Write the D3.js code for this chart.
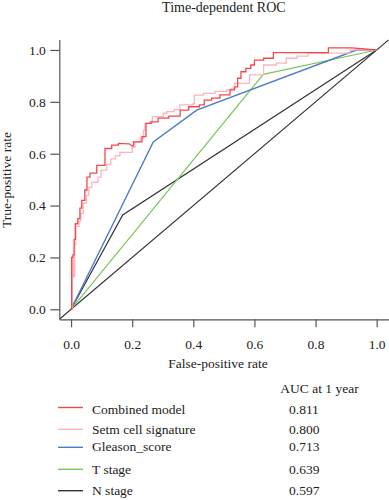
<!DOCTYPE html>
<html><head><meta charset="utf-8">
<script src="https://cdn.jsdelivr.net/npm/d3@7"></script>
<style>body{margin:0;background:#fff}svg{display:block}text{font-family:"Liberation Serif","Times New Roman",serif;fill:#222}</style>
</head><body>
<svg id="c" width="389" height="500"></svg>
<script>
const ticks = [0, 0.2, 0.4, 0.6, 0.8, 1.0];
const seriesNames = ["Combined model", "Setm cell signature", "Gleason_score", "T stage", "N stage"];
const aucValues = ["0.811", "0.800", "0.713", "0.639", "0.597"];
const colors = ["#f4474a", "#ffb3bd", "#4a7cc7", "#7cc65c", "#333333"];

const combinedFPR = [0,0.002,0.002,0.006,0.006,0.010,0.010,0.014,0.014,0.022,0.022,0.029,0.029,0.035,0.035,0.045,0.045,0.052,0.052,0.062,0.062,0.084,0.084,0.111,0.111,0.133,0.133,0.155,0.155,0.190,0.199,0.204,0.204,0.232,0.232,0.245,0.245,0.262,0.262,0.285,0.285,0.320,0.320,0.357,0.357,0.385,0.385,0.420,0.420,0.436,0.436,0.460,0.460,0.487,0.487,0.520,0.520,0.535,0.535,0.545,0.545,0.556,0.556,0.572,0.572,0.588,0.588,0.600,0.600,0.630,0.630,0.662,0.662,0.842,0.842,0.918,1.0];
const combinedTPR = [0,0,0.200,0.200,0.210,0.210,0.270,0.270,0.330,0.330,0.350,0.350,0.390,0.390,0.420,0.420,0.460,0.460,0.510,0.510,0.525,0.525,0.555,0.555,0.620,0.620,0.633,0.633,0.640,0.638,0.630,0.630,0.646,0.646,0.666,0.666,0.717,0.717,0.723,0.723,0.737,0.737,0.745,0.745,0.768,0.768,0.781,0.781,0.788,0.788,0.807,0.807,0.814,0.814,0.827,0.827,0.846,0.846,0.858,0.858,0.891,0.891,0.916,0.916,0.929,0.929,0.942,0.942,0.961,0.961,0.968,0.968,0.990,0.990,1.008,1.008,1.0];

const setmFPR = [0,0.004,0.004,0.008,0.008,0.012,0.012,0.016,0.016,0.026,0.026,0.032,0.032,0.040,0.040,0.050,0.050,0.058,0.058,0.068,0.068,0.088,0.088,0.098,0.098,0.117,0.117,0.130,0.130,0.145,0.145,0.160,0.160,0.200,0.200,0.209,0.209,0.226,0.226,0.237,0.237,0.242,0.242,0.258,0.258,0.266,0.266,0.302,0.302,0.313,0.313,0.338,0.338,0.356,0.356,0.400,0.400,0.404,0.404,0.433,0.433,0.471,0.471,0.509,0.509,0.524,0.524,0.535,0.535,0.584,0.584,0.630,0.630,0.672,0.672,0.704,0.704,0.740,0.740,0.776,0.776,0.913,0.913,1.0];
const setmTPR = [0,0,0.200,0.200,0.125,0.125,0.250,0.250,0.320,0.320,0.340,0.340,0.370,0.370,0.410,0.410,0.440,0.440,0.470,0.470,0.490,0.490,0.510,0.510,0.537,0.537,0.560,0.560,0.580,0.580,0.592,0.592,0.605,0.605,0.625,0.625,0.646,0.646,0.660,0.660,0.690,0.690,0.717,0.717,0.723,0.723,0.743,0.743,0.756,0.756,0.762,0.762,0.770,0.770,0.788,0.788,0.794,0.794,0.826,0.826,0.833,0.833,0.840,0.840,0.846,0.846,0.852,0.852,0.871,0.871,0.904,0.904,0.942,0.942,0.949,0.949,0.968,0.968,0.976,0.976,0.988,0.988,1.0,1.0];

const gleasonFPR = [0, 0.269, 0.411, 0.934, 1.0];
const gleasonTPR = [0, 0.645, 0.768, 1.0, 1.0];
const tstageFPR = [0, 0.629, 0.989, 1.0];
const tstageTPR = [0, 0.906, 0.997, 1.0];
const nstageFPR = [0, 0.169, 1.0];
const nstageTPR = [0, 0.364, 1.0];
const refFPR = [-0.0385, 1.04];
const refTPR = [-0.0385, 1.04];

const svg = d3.select("#c");
const x = d3.scaleLinear().domain([-0.0385, 1.04]).range([59.3, 388.9]);
const y = d3.scaleLinear().domain([-0.0385, 1.04]).range([319.3, 39.6]);

svg.append("defs").append("clipPath").attr("id","clip").append("rect")
  .attr("x", x.range()[0]).attr("y", y.range()[1])
  .attr("width", x.range()[1]-x.range()[0]).attr("height", y.range()[0]-y.range()[1]);

const line = d3.line().x(d => x(d[0])).y(d => y(d[1]));
const g = svg.append("g").attr("clip-path","url(#clip)");
const zip = (a,b) => a.map((v,i) => [v, b[i]]);

g.append("path").datum(zip(refFPR, refTPR)).attr("d", line).attr("fill","none").attr("stroke","#333").attr("stroke-width",1.2);
g.append("path").datum(zip(nstageFPR, nstageTPR)).attr("d", line).attr("fill","none").attr("stroke",colors[4]).attr("stroke-width",1.2);
g.append("path").datum(zip(tstageFPR, tstageTPR)).attr("d", line).attr("fill","none").attr("stroke",colors[3]).attr("stroke-width",1.2);
g.append("path").datum(zip(gleasonFPR, gleasonTPR)).attr("d", line).attr("fill","none").attr("stroke",colors[2]).attr("stroke-width",1.4);
g.append("path").datum(zip(setmFPR, setmTPR)).attr("d", line).attr("fill","none").attr("stroke",colors[1]).attr("stroke-width",1.3);
g.append("path").datum(zip(combinedFPR, combinedTPR)).attr("d", line).attr("fill","none").attr("stroke",colors[0]).attr("stroke-width",1.3);

const xa = svg.append("g").attr("transform",`translate(0,${y.range()[0]})`)
  .call(d3.axisBottom(x).tickValues(ticks).tickFormat(d3.format(".1f")).tickSize(8).tickSizeOuter(0).tickPadding(12));
const ya = svg.append("g").attr("transform",`translate(${x.range()[0]},0)`)
  .call(d3.axisLeft(y).tickValues(ticks).tickFormat(d3.format(".1f")).tickSize(9).tickSizeOuter(0).tickPadding(4.5));
[xa, ya].forEach(a => {
  a.selectAll("path,line").attr("stroke","#555").attr("stroke-width",1.2);
  a.selectAll("text").attr("font-size","13.5px").attr("font-family",'"Liberation Serif",serif').attr("fill","#222");
});

const cx = (x(0)+x(1))/2;
svg.append("text").attr("x", cx).attr("y", 12).attr("text-anchor","middle").attr("font-size","14px").text("Time-dependent ROC");
svg.append("text").attr("x", 218).attr("y", 368).attr("text-anchor","middle").attr("font-size","13.5px").text("False-positive rate");
svg.append("text").attr("transform","translate(10.5,180) rotate(-90)").attr("text-anchor","middle").attr("font-size","13.5px").text("True-positive rate");

svg.append("text").attr("x", 319.5).attr("y", 393).attr("text-anchor","middle").attr("font-size","13.5px").text("AUC at 1 year");
const lineY = [407.5, 429.3, 447.3, 469.3, 490.7];
const textY = [413.9, 433.6, 451.3, 473.6, 495.3];
seriesNames.forEach((n,i) => {
  svg.append("line").attr("x1",58).attr("x2",83).attr("y1",lineY[i]).attr("y2",lineY[i]).attr("stroke",colors[i]).attr("stroke-width",1.4);
  svg.append("text").attr("x",92).attr("y",textY[i]).attr("font-size","13.5px").text(n);
  svg.append("text").attr("x",289).attr("y",textY[i]).attr("font-size","13.5px").text(aucValues[i]);
});
</script>
</body></html>
